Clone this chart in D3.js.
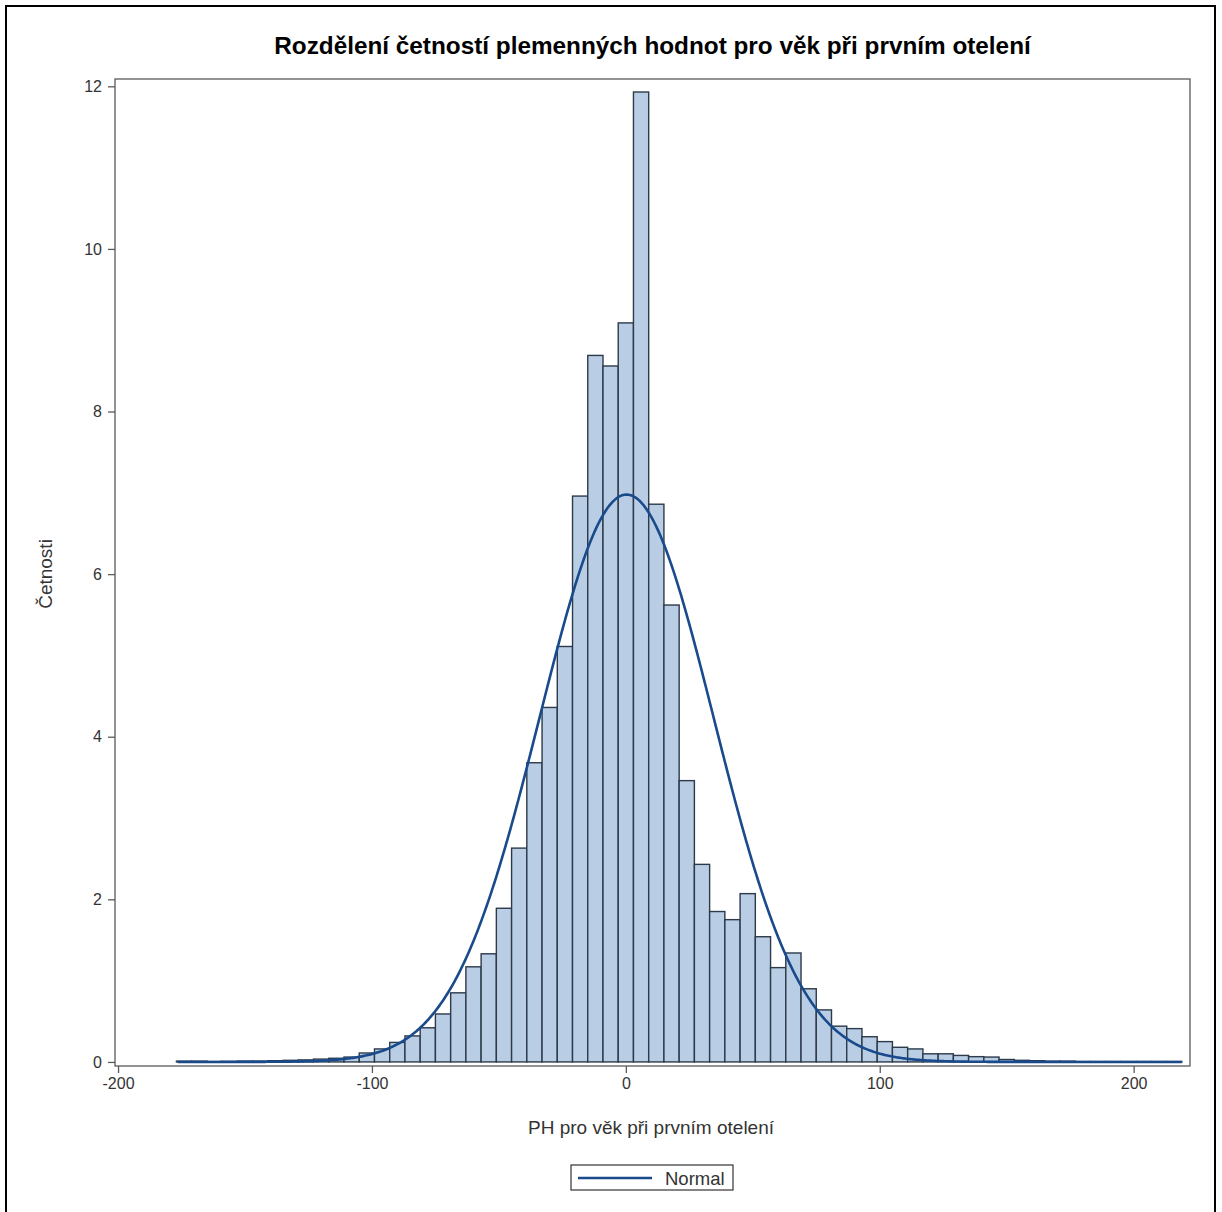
<!DOCTYPE html>
<html>
<head>
<meta charset="utf-8">
<script src="https://cdn.jsdelivr.net/npm/d3@7"></script>
<style>
  html, body { margin: 0; padding: 0; background: #fff; }
  svg { display: block; }
  text { font-family: "Liberation Sans", Arial, sans-serif; }
</style>
</head>
<body>
<svg id="chart" width="1222" height="1212"></svg>
<script>
// Histogram bins: bin centres (width 6) and percentage of animals per bin
const binWidth = 6;
const binCenters = [
  -174, -168, -162, -156, -150, -144, -138, -132, -126, -120,
  -114, -108, -102, -96, -90, -84, -78, -72, -66, -60,
  -54, -48, -42, -36, -30, -24, -18, -12, -6, 0,
  6, 12, 18, 24, 30, 36, 42, 48, 54, 60,
  66, 72, 78, 84, 90, 96, 102, 108, 114, 120,
  126, 132, 138, 144, 150, 156, 162, 168, 174, 180,
  186, 192, 198, 204, 210, 216
];
const binPercents = [
  0.01, 0.01, 0.005, 0.005, 0.01, 0.01, 0.015, 0.02, 0.025, 0.035,
  0.045, 0.06, 0.11, 0.16, 0.24, 0.32, 0.42, 0.59, 0.85, 1.17,
  1.33, 1.89, 2.63, 3.68, 4.36, 5.11, 6.96, 8.69, 8.56, 9.09,
  11.93, 6.86, 5.62, 3.46, 2.43, 1.85, 1.75, 2.07, 1.54, 1.16,
  1.34, 0.90, 0.64, 0.44, 0.41, 0.31, 0.25, 0.18, 0.16, 0.10,
  0.10, 0.08, 0.065, 0.06, 0.03, 0.02, 0.015, 0.01, 0.01, 0.005,
  0.005, 0.005, 0.005, 0.005, 0.005, 0.005
];

// Fitted normal curve parameters and the range it is drawn over
const normalMean = 0.3;
const normalStd = 34.3;
const curveRange = [-176.5, 219];

// Axis ticks and texts
const xTicks = [-200, -100, 0, 100, 200];
const yTicks = [0, 2, 4, 6, 8, 10, 12];
const titleText = "Rozdělení četností plemenných hodnot pro věk při prvním otelení";
const xLabel = "PH pro věk při prvním otelení";
const yLabel = "Četnosti";
const legendLabel = "Normal";

const bins = binCenters.map((c, i) => ({ c, v: binPercents[i] }));

const svg = d3.select("#chart");
const plot = { left: 115, right: 1190, top: 79, bottom: 1066 };

const x = d3.scaleLinear().domain([-201.2, 222.2]).range([plot.left, plot.right]);
const y = d3.scaleLinear().domain([-0.05, 12.09]).range([plot.bottom, plot.top]);

const barFill = "#b9cde5";
const barStroke = "#2c3a4a";
const curveColor = "#184a8c";
const textColor = "#333";
// plain hyphen-minus for negative tick values
const tickFmt = v => String(v);

// Outer border of the graphic
svg.append("rect")
  .attr("x", 6).attr("y", 6).attr("width", 1209).attr("height", 1220)
  .attr("fill", "none").attr("stroke", "#000").attr("stroke-width", 2);

// Title
const title = svg.append("text")
  .attr("x", (plot.left + plot.right) / 2).attr("y", 54)
  .attr("text-anchor", "middle")
  .attr("font-weight", "bold").attr("font-size", 20)
  .attr("fill", "#000")
  .text(titleText);
const tw = title.node().getComputedTextLength();
title.attr("font-size", 20 * 757 / tw);

// Bars
svg.append("g").selectAll("rect")
  .data(bins)
  .join("rect")
  .attr("x", d => x(d.c - binWidth / 2))
  .attr("width", d => x(d.c + binWidth / 2) - x(d.c - binWidth / 2))
  .attr("y", d => y(d.v))
  .attr("height", d => y(0) - y(d.v))
  .attr("fill", barFill)
  .attr("stroke", barStroke)
  .attr("stroke-width", 1.4);

// Normal density scaled to percent per bin
const density = t => 100 * binWidth / (normalStd * Math.sqrt(2 * Math.PI)) *
  Math.exp(-0.5 * Math.pow((t - normalMean) / normalStd, 2));
const curvePts = d3.range(curveRange[0], curveRange[1] + 0.01, 0.5).map(t => [t, density(t)]);
svg.append("path")
  .datum(curvePts)
  .attr("d", d3.line().x(d => x(d[0])).y(d => y(d[1])))
  .attr("fill", "none")
  .attr("stroke", curveColor)
  .attr("stroke-width", 2.6);

// Plot frame
svg.append("rect")
  .attr("x", plot.left).attr("y", plot.top)
  .attr("width", plot.right - plot.left).attr("height", plot.bottom - plot.top)
  .attr("fill", "none").attr("stroke", "#5a5a5a").attr("stroke-width", 1.3);

// X axis
const xAxis = svg.append("g")
  .attr("transform", `translate(0,${plot.bottom})`)
  .call(d3.axisBottom(x).tickValues(xTicks).tickSize(7).tickPadding(5).tickFormat(tickFmt));
xAxis.select(".domain").remove();
xAxis.selectAll(".tick line").attr("stroke", "#5a5a5a").attr("stroke-width", 1.3);
xAxis.selectAll(".tick text").attr("font-size", 16).attr("fill", textColor)
  .attr("font-family", "'Liberation Sans', Arial, sans-serif");

// Y axis
const yAxis = svg.append("g")
  .attr("transform", `translate(${plot.left},0)`)
  .call(d3.axisLeft(y).tickValues(yTicks).tickSize(7).tickPadding(6).tickFormat(tickFmt));
yAxis.select(".domain").remove();
yAxis.selectAll(".tick line").attr("stroke", "#5a5a5a").attr("stroke-width", 1.3);
yAxis.selectAll(".tick text").attr("font-size", 16).attr("fill", textColor)
  .attr("font-family", "'Liberation Sans', Arial, sans-serif");

// Axis labels
svg.append("text")
  .attr("x", 651).attr("y", 1134)
  .attr("text-anchor", "middle").attr("font-size", 19).attr("fill", textColor)
  .text(xLabel);
svg.append("text")
  .attr("transform", "translate(52,574) rotate(-90)")
  .attr("text-anchor", "middle").attr("font-size", 19).attr("fill", textColor)
  .text(yLabel);

// Legend
const lg = svg.append("g");
lg.append("rect")
  .attr("x", 571).attr("y", 1165).attr("width", 162).attr("height", 25)
  .attr("fill", "#fff").attr("stroke", "#333").attr("stroke-width", 1.2);
lg.append("line")
  .attr("x1", 578).attr("x2", 652).attr("y1", 1178).attr("y2", 1178)
  .attr("stroke", curveColor).attr("stroke-width", 2.6);
lg.append("text")
  .attr("x", 665).attr("y", 1184.5)
  .attr("font-size", 18.5).attr("fill", textColor)
  .text(legendLabel);
</script>
</body>
</html>
